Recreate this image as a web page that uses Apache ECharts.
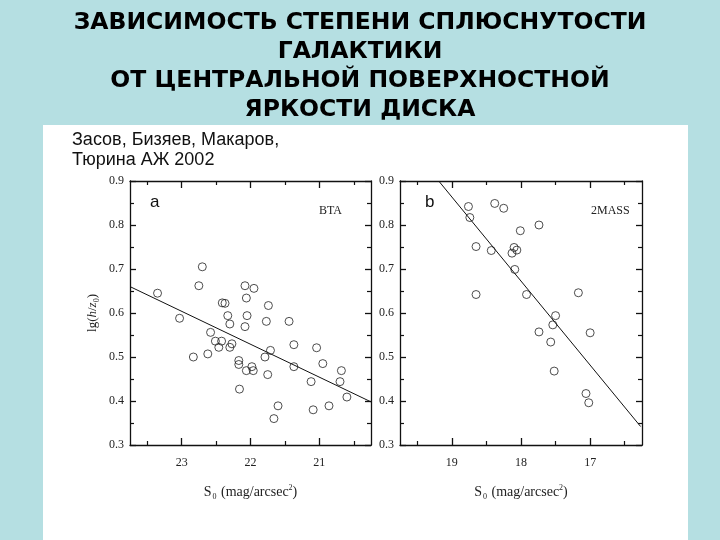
<!DOCTYPE html>
<html>
<head>
<meta charset="utf-8">
<script src="https://cdn.jsdelivr.net/npm/echarts@6/dist/echarts.min.js"></script>
<style>html,body{margin:0;padding:0;}#c{width:720px;height:540px;}</style>
</head>
<body>
<div id="c"></div>
<script>
// Panel a (BTA)
const aX = [23.35,23.03,22.83,22.75,22.70,22.62,22.58,22.51,22.46,22.42,22.41,22.37,22.33,22.30,22.30,22.27,22.17,22.17,22.16,22.08,22.08,22.06,22.05,22.06,21.98,21.96,21.95,21.79,21.77,21.74,21.75,21.71,21.66,21.60,21.44,21.37,21.37,21.12,21.09,21.04,20.95,20.86,20.68,20.70,20.60];
const aY = [0.645,0.588,0.500,0.662,0.705,0.507,0.556,0.536,0.522,0.536,0.623,0.622,0.594,0.575,0.522,0.530,0.492,0.483,0.427,0.662,0.569,0.634,0.594,0.469,0.478,0.469,0.656,0.500,0.581,0.617,0.460,0.515,0.360,0.389,0.581,0.528,0.478,0.444,0.380,0.521,0.485,0.389,0.469,0.444,0.409];
const aFitX = [23.75, 20.25];
const aFitY = [0.660, 0.398];
// Panel b (2MASS)
const bX = [18.76,18.74,18.65,18.65,18.43,18.38,18.25,18.13,18.10,18.06,18.09,18.01,17.92,17.74,17.74,17.57,17.54,17.50,17.52,17.17,17.00,17.06,17.02];
const bY = [0.842,0.817,0.751,0.642,0.742,0.849,0.838,0.736,0.749,0.743,0.699,0.787,0.642,0.800,0.557,0.534,0.573,0.594,0.468,0.646,0.555,0.417,0.396];
const bFitX = [19.19, 16.27];
const bFitY = [0.900, 0.342];
// Axes
const aRange = [20.25, 23.75];
const bRange = [16.25, 19.75];
const aLabels = [23, 22, 21];
const bLabels = [19, 18, 17];
const aMinor = [23.5, 22.5, 21.5, 20.5];
const bMinor = [19.5, 18.5, 17.5, 16.5];
const yMin = 0.3, yMax = 0.9, yStep = 0.1;
// Texts
const titleLines = ['ЗАВИСИМОСТЬ СТЕПЕНИ СПЛЮСНУТОСТИ', 'ГАЛАКТИКИ', 'ОТ ЦЕНТРАЛЬНОЙ ПОВЕРХНОСТНОЙ', 'ЯРКОСТИ ДИСКА'];
const sourceLines = ['Засов, Бизяев, Макаров,', 'Тюрина АЖ 2002'];

const zip = (xs, ys) => xs.map((x, i) => [x, ys[i]]);
const serif = 'Liberation Serif';
const ink = '#111';

function xAxes(gridIndex, range, labels, minor) {
  const base = {type: 'value', gridIndex, min: range[0], max: range[1], inverse: true,
    splitLine: {show: false}, axisLine: {show: true, lineStyle: {color: ink, width: 1.3}}};
  return [
    Object.assign({}, base, {position: 'bottom',
      axisTick: {show: true, inside: true, length: 7, customValues: labels, lineStyle: {color: ink, width: 1.3}},
      axisLabel: {show: true, customValues: labels, margin: 12, color: '#222', fontFamily: serif, fontSize: 12},
      name: '{t|S}{s|0}{t| (mag/arcsec}{p|2}{t|)}', nameLocation: 'middle', nameGap: 38,
      nameTextStyle: {color: '#222', fontFamily: serif, fontSize: 14,
        rich: {t: {fontFamily: serif, fontSize: 14, color: '#222'},
               s: {fontFamily: serif, fontSize: 8, color: '#222', padding: [10, 1, 0, 1]},
               p: {fontFamily: serif, fontSize: 8, color: '#222', padding: [0, 0, 9, 0]}}}}),
    Object.assign({}, base, {position: 'bottom', axisLine: {show: false},
      axisTick: {show: true, inside: true, length: 4, customValues: minor, lineStyle: {color: ink, width: 1.2}},
      axisLabel: {show: false}}),
    Object.assign({}, base, {position: 'top',
      axisTick: {show: true, inside: true, length: 7, customValues: labels, lineStyle: {color: ink, width: 1.3}},
      axisLabel: {show: false}}),
    Object.assign({}, base, {position: 'top', axisLine: {show: false},
      axisTick: {show: true, inside: true, length: 4, customValues: minor, lineStyle: {color: ink, width: 1.2}},
      axisLabel: {show: false}})
  ];
}
function yAxes(gridIndex, withName) {
  const base = {type: 'value', gridIndex, min: yMin, max: yMax, interval: yStep,
    splitLine: {show: false}, axisLine: {show: true, lineStyle: {color: ink, width: 1.3}},
    axisTick: {show: true, inside: true, length: 6, lineStyle: {color: ink, width: 1.3}},
    minorTick: {show: true, splitNumber: 2, length: 4, lineStyle: {color: ink, width: 1.2}}};
  const left = Object.assign({}, base, {position: 'left',
    axisLabel: {show: true, margin: 6, color: '#222', fontFamily: serif, fontSize: 12,
      formatter: v => v.toFixed(1)}});
  if (withName) {
    Object.assign(left, {name: '{t|lg(}{i|h}{t|/}{i|z}{s|0}{t|)}', nameLocation: 'middle', nameGap: 29, nameRotate: 90,
      nameTextStyle: {color: '#222', fontFamily: serif, fontSize: 13,
        rich: {t: {fontFamily: serif, fontSize: 13, color: '#222'},
               i: {fontFamily: serif, fontSize: 13, fontStyle: 'italic', color: '#222'},
               s: {fontFamily: serif, fontSize: 8, color: '#222', padding: [9, 0, 0, 0]}}}});
  }
  const right = Object.assign({}, base, {position: 'right', axisLabel: {show: false}});
  return [left, right];
}

const circle = {type: 'scatter', symbol: 'circle', symbolSize: 8,
  itemStyle: {color: 'rgba(255,255,255,0)', borderColor: '#222', borderWidth: 1}};
const fit = {type: 'line', symbol: 'none', silent: true,
  lineStyle: {color: '#111', width: 1}};

const option = {
  backgroundColor: '#b5dfe2',
  animation: false,
  graphic: [
    {type: 'rect', z: -10, shape: {x: 43, y: 125, width: 645, height: 415}, style: {fill: '#ffffff'}},
    {type: 'text', x: 360, y: 9, z: 5,
      style: {text: titleLines.join('\n'), align: 'center', verticalAlign: 'top',
        fontFamily: 'DejaVu Sans', fontWeight: 'bold', fontSize: 23.5, lineHeight: 28.7, fill: '#000'}},
    {type: 'text', left: 72, top: 130, z: 5,
      style: {text: sourceLines.join('\n'), fontFamily: 'Liberation Sans', fontSize: 18, lineHeight: 20, fill: '#111'}},
    {type: 'text', left: 150, top: 194, z: 5, style: {text: 'a', fontFamily: 'Liberation Sans', fontSize: 17, fill: '#111'}},
    {type: 'text', left: 319, top: 205, z: 5, style: {text: 'BTA', fontFamily: serif, fontSize: 12, fill: '#222'}},
    {type: 'text', left: 425, top: 194, z: 5, style: {text: 'b', fontFamily: 'Liberation Sans', fontSize: 17, fill: '#111'}},
    {type: 'text', left: 591, top: 205, z: 5, style: {text: '2MASS', fontFamily: serif, fontSize: 12, fill: '#222'}}
  ],
  grid: [
    {left: 130, top: 181, width: 241, height: 264},
    {left: 400, top: 181, width: 242, height: 264}
  ],
  xAxis: [].concat(xAxes(0, aRange, aLabels, aMinor), xAxes(1, bRange, bLabels, bMinor)),
  yAxis: [].concat(yAxes(0, true), yAxes(1, false)),
  series: [
    Object.assign({}, circle, {xAxisIndex: 0, yAxisIndex: 0, data: zip(aX, aY)}),
    Object.assign({}, fit, {xAxisIndex: 0, yAxisIndex: 0, data: zip(aFitX, aFitY)}),
    Object.assign({}, circle, {xAxisIndex: 4, yAxisIndex: 2, data: zip(bX, bY)}),
    Object.assign({}, fit, {xAxisIndex: 4, yAxisIndex: 2, data: zip(bFitX, bFitY)})
  ]
};
echarts.init(document.getElementById('c'), null, {renderer: 'canvas'}).setOption(option);
</script>
</body>
</html>
